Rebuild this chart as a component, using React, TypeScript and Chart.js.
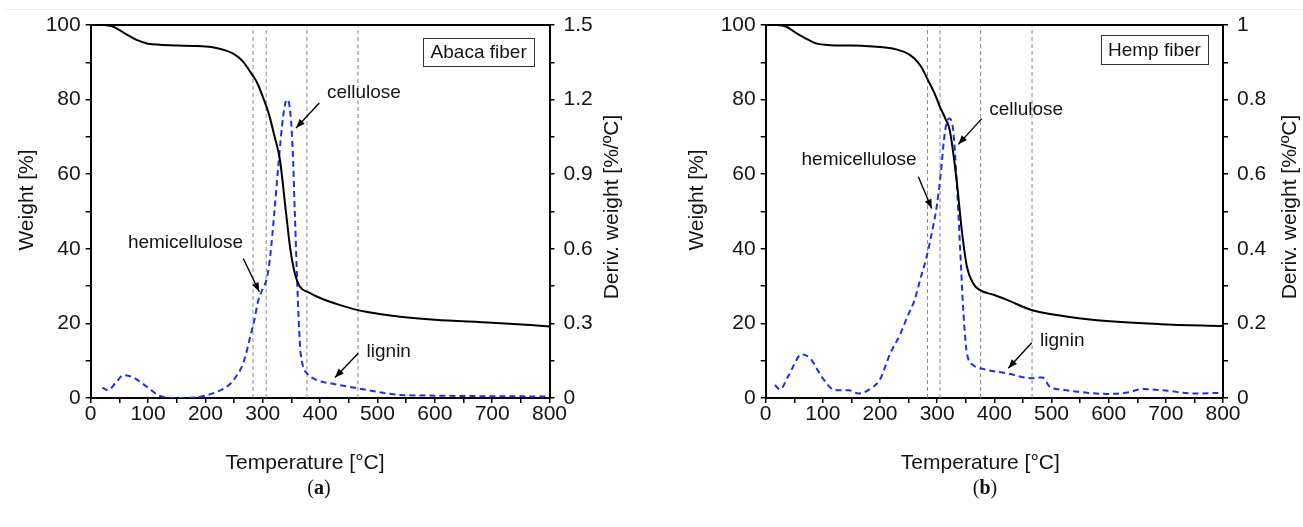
import React, { useEffect, useRef } from 'react';
import { Chart, registerables } from 'chart.js';
Chart.register(...registerables);

// ---------- Abaca fiber (a) ----------
const abacaWeightT = [25, 40, 60, 80, 100, 120, 150, 180, 210, 235, 250, 265, 280, 290, 300, 310, 320, 330, 340, 348, 356, 365, 380, 400, 435, 480, 540, 600, 700, 800];
const abacaWeight = [100, 99.5, 97.7, 96, 95, 94.7, 94.5, 94.4, 94.1, 93.2, 92.2, 90.3, 87, 84.6, 80.8, 76.5, 70.5, 63.8, 50.5, 40, 33.4, 29.8, 28.3, 26.8, 24.9, 23.1, 21.8, 21, 20.2, 19.2];
const abacaDtgT = [20, 30, 45, 57, 74, 98, 121, 150, 185, 220, 240, 250, 260, 266, 270, 278, 285, 292, 300, 307, 313, 320, 327, 336, 342, 347, 352, 356, 360, 365, 370, 377, 394, 420, 466, 500, 540, 580, 650, 800];
const abacaDtg = [0.042, 0.032, 0.065, 0.092, 0.083, 0.045, 0.008, 0, 0.003, 0.025, 0.05, 0.075, 0.11, 0.14, 0.17, 0.245, 0.31, 0.39, 0.44, 0.48, 0.57, 0.74, 0.93, 1.14, 1.2, 1.17, 1.01, 0.74, 0.47, 0.21, 0.13, 0.1, 0.072, 0.058, 0.039, 0.025, 0.012, 0.01, 0.008, 0.006];
const abacaMarkers = [283, 306, 377, 466];

// ---------- Hemp fiber (b) ----------
const hempWeightT = [20, 35, 55, 75, 90, 114, 140, 172, 200, 230, 250, 260, 272, 283, 295, 305, 314, 322, 334, 343, 352, 363, 375, 400, 422, 465, 520, 575, 690, 800];
const hempWeight = [100, 99.6, 97.7, 96, 95, 94.6, 94.5, 94.4, 94.1, 93.4, 92.2, 91, 88.8, 85.5, 81.8, 78, 75, 71.8, 58.4, 45, 35.2, 30.7, 28.9, 27.6, 26.3, 23.6, 22, 20.9, 19.8, 19.3];
const hempDtgT = [16, 25, 40, 63, 78, 98, 118, 130, 145, 162, 188, 200, 218, 235, 247, 261, 270, 280, 288, 299, 305, 314, 321, 328, 334, 340, 346, 352, 363, 380, 422, 465, 478, 484, 497, 520, 545, 597, 630, 661, 700, 748, 800];
const hempDtg = [0.035, 0.023, 0.06, 0.117, 0.106, 0.057, 0.023, 0.021, 0.021, 0.012, 0.03, 0.05, 0.12, 0.17, 0.215, 0.265, 0.316, 0.37, 0.423, 0.512, 0.584, 0.718, 0.749, 0.718, 0.584, 0.405, 0.227, 0.12, 0.088, 0.078, 0.066, 0.053, 0.055, 0.055, 0.03, 0.022, 0.017, 0.011, 0.014, 0.024, 0.02, 0.012, 0.014];
const hempMarkers = [283, 305, 376, 466];

// ---------- axis labels ----------
const xTitle = 'Temperature [°C]';
const yTitle = 'Weight [%]';
const y1Title = 'Deriv. weight [%/ºC]';

// annotations in data coordinates (T, weight %)
type Note = { text: string; tx: number; ty: number; align: CanvasTextAlign; ax1: number; ay1: number; ax2: number; ay2: number };
const abacaNotes: Note[] = [
  { text: 'cellulose', tx: 412, ty: 81.7, align: 'left', ax1: 398.6, ay1: 79.1, ax2: 358, ay2: 72.4 },
  { text: 'hemicellulose', tx: 265.6, ty: 41.5, align: 'right', ax1: 266, ay1: 37.4, ax2: 294, ay2: 28.5 },
  { text: 'lignin', tx: 481, ty: 12.3, align: 'left', ax1: 466.6, ay1: 12, ax2: 426, ay2: 5.5 },
];
const hempNotes: Note[] = [
  { text: 'cellulose', tx: 391, ty: 77.2, align: 'left', ax1: 378, ay1: 74.9, ax2: 337, ay2: 68 },
  { text: 'hemicellulose', tx: 264, ty: 63.8, align: 'right', ax1: 267, ay1: 59.3, ax2: 290.4, ay2: 50.8 },
  { text: 'lignin', tx: 480, ty: 15.3, align: 'left', ax1: 465.4, ay1: 14.8, ax2: 424.4, ay2: 8 },
];

const FONT = '"Liberation Sans", Arial, sans-serif';
const INK = '#141414';

type PanelProps = {
  wT: number[]; w: number[]; dT: number[]; d: number[]; markers: number[];
  y1Max: number; y1Step: number; y1LabelEvery: number;
  notes: Note[]; boxText: string; box: [number, number, number, number];
  width: number; yW: number; y1W: number;
  yTitleX: number; y1TitleX: number; xTitleShift: number;
};

function drawArrow(ctx: CanvasRenderingContext2D, x1: number, y1: number, x2: number, y2: number) {
  ctx.beginPath(); ctx.moveTo(x1, y1); ctx.lineTo(x2, y2); ctx.stroke();
  const a = Math.atan2(y2 - y1, x2 - x1);
  const L = 9, W = 3.5;
  ctx.beginPath();
  ctx.moveTo(x2, y2);
  ctx.lineTo(x2 - L * Math.cos(a) + W * Math.sin(a), y2 - L * Math.sin(a) - W * Math.cos(a));
  ctx.lineTo(x2 - L * Math.cos(a) - W * Math.sin(a), y2 - L * Math.sin(a) + W * Math.cos(a));
  ctx.closePath(); ctx.fill();
}

function Panel(p: PanelProps) {
  const ref = useRef<HTMLCanvasElement>(null);
  useEffect(() => {
    if (!ref.current) return;
    const deco = {
      id: 'deco',
      afterDraw(chart: any) {
        const ctx: CanvasRenderingContext2D = chart.ctx;
        const ca = chart.chartArea;
        const xs = chart.scales.x, ys = chart.scales.y;
        ctx.save();
        // top frame
        ctx.strokeStyle = '#000'; ctx.lineWidth = 2;
        ctx.beginPath(); ctx.moveTo(ca.left - 1, ca.top); ctx.lineTo(ca.right + 1, ca.top); ctx.stroke();
        // box label
        const [b0, b1, b2, b3] = p.box;
        const bx1 = xs.getPixelForValue(b0), by1 = ys.getPixelForValue(b1);
        const bx2 = xs.getPixelForValue(b2), by2 = ys.getPixelForValue(b3);
        ctx.fillStyle = '#fff'; ctx.fillRect(bx1, by1, bx2 - bx1, by2 - by1);
        ctx.strokeStyle = '#333'; ctx.lineWidth = 1;
        ctx.strokeRect(Math.round(bx1) + 0.5, Math.round(by1) + 0.5, Math.round(bx2 - bx1), Math.round(by2 - by1));
        ctx.fillStyle = INK; ctx.font = `19px ${FONT}`; ctx.textAlign = 'center'; ctx.textBaseline = 'middle';
        ctx.fillText(p.boxText, (bx1 + bx2) / 2, (by1 + by2) / 2 + 1);
        // notes
        ctx.strokeStyle = '#000'; ctx.fillStyle = '#000'; ctx.lineWidth = 1.4;
        for (const n of p.notes) {
          drawArrow(ctx, xs.getPixelForValue(n.ax1), ys.getPixelForValue(n.ay1), xs.getPixelForValue(n.ax2), ys.getPixelForValue(n.ay2));
          ctx.fillStyle = INK;
          ctx.font = `19px ${FONT}`; ctx.textAlign = n.align; ctx.textBaseline = 'middle';
          ctx.fillText(n.text, xs.getPixelForValue(n.tx), ys.getPixelForValue(n.ty));
          ctx.fillStyle = '#000';
        }
        // axis titles
        ctx.fillStyle = INK; ctx.font = `21px ${FONT}`; ctx.textAlign = 'center'; ctx.textBaseline = 'middle';
        ctx.fillText(xTitle, (ca.left + ca.right) / 2 + p.xTitleShift, 463);
        ctx.save(); ctx.translate(p.yTitleX, 200); ctx.rotate(-Math.PI / 2); ctx.fillText(yTitle, 0, 0); ctx.restore();
        ctx.save(); ctx.translate(p.y1TitleX, 207); ctx.rotate(-Math.PI / 2); ctx.fillText(y1Title, 0, 0); ctx.restore();
        ctx.restore();
      },
    };
    const tickFont = { family: FONT, size: 21 };
    const gridCfg = { drawOnChartArea: false, drawTicks: true, tickLength: 5, color: '#000', lineWidth: 1.5 };
    const borderCfg = { display: true, color: '#000', width: 2 };
    const markerSets = p.markers.map((m) => ({
      data: [{ x: m, y: 0 }, { x: m, y: 100 }],
      borderColor: '#8a8a8a', borderWidth: 1, borderDash: [4, 3], pointRadius: 0, yAxisID: 'y', order: 5,
    }));
    const chart = new Chart(ref.current, {
      type: 'line',
      data: {
        datasets: [
          {
            data: p.wT.map((t, i) => ({ x: t, y: p.w[i] })),
            borderColor: '#000', borderWidth: 2, pointRadius: 0, cubicInterpolationMode: 'monotone', yAxisID: 'y', order: 1,
          },
          {
            data: p.dT.map((t, i) => ({ x: t, y: p.d[i] })),
            borderColor: '#1a30f0', borderWidth: 2, borderDash: [6, 4], pointRadius: 0, cubicInterpolationMode: 'monotone', yAxisID: 'y1', order: 2,
          },
          ...markerSets,
        ] as any,
      },
      options: {
        animation: false,
        responsive: false,
        devicePixelRatio: 1,
        layout: { padding: { top: 25, left: 0, right: 0, bottom: 0 } },
        plugins: { legend: { display: false }, tooltip: { enabled: false } },
        scales: {
          x: {
            type: 'linear', min: 0, max: 800,
            ticks: { stepSize: 50, autoSkip: false, maxRotation: 0, padding: -1, font: tickFont, color: INK,
              callback: (v: any) => (Number(v) % 100 === 0 ? String(v) : '') },
            grid: gridCfg, border: borderCfg,
            afterFit: (s: any) => { s.height = 129; },
          },
          y: {
            type: 'linear', position: 'left', min: 0, max: 100,
            ticks: { stepSize: 10, autoSkip: false, padding: 5, font: tickFont, color: INK,
              callback: (v: any) => (Number(v) % 20 === 0 ? String(v) : '') },
            grid: gridCfg, border: borderCfg,
            afterFit: (s: any) => { s.width = p.yW; },
          },
          y1: {
            type: 'linear', position: 'right', min: 0, max: p.y1Max,
            ticks: { stepSize: p.y1Step, autoSkip: false, padding: 9, font: tickFont, color: INK,
              callback: (v: any) => {
                const k = Math.round(Number(v) / p.y1Step);
                return k % p.y1LabelEvery === 0 ? String(Math.round(Number(v) * 100) / 100) : '';
              } },
            grid: gridCfg, border: borderCfg,
            afterFit: (s: any) => { s.width = p.y1W; },
          },
        },
      } as any,
      plugins: [deco],
    });
    return () => chart.destroy();
  }, []);
  return <canvas ref={ref} width={p.width} height={527} style={{ display: 'block', width: p.width, height: 527 }} />;
}

function Cap({ letter, x }: { letter: string; x: number }) {
  return (
    <div style={{ position: 'absolute', left: x, top: 487, transform: 'translate(-50%, -50%)', fontFamily: '"Liberation Serif", "Times New Roman", serif', fontSize: 20, color: '#111', whiteSpace: 'nowrap' }}>
      (<b>{letter}</b>)
    </div>
  );
}

export default function App() {
  useEffect(() => { document.body.style.margin = '0'; }, []);
  return (
    <div style={{ position: 'relative', width: 1303, height: 527, background: '#fff', overflow: 'hidden' }}>
      <div style={{ position: 'absolute', left: 5, right: 0, top: 9, height: 1, background: '#ececec' }} />
      <div style={{ position: 'absolute', left: 0, top: 0 }}>
        <Panel wT={abacaWeightT} w={abacaWeight} dT={abacaDtgT} d={abacaDtg} markers={abacaMarkers}
          y1Max={1.5} y1Step={0.15} y1LabelEvery={2}
          notes={abacaNotes} boxText="Abaca fiber" box={[580, 96.5, 773, 88.9]}
          width={650} yW={90.7} y1W={100.5} yTitleX={27} y1TitleX={612} xTitleShift={-15} />
      </div>
      <div style={{ position: 'absolute', left: 650, top: 0 }}>
        <Panel wT={hempWeightT} w={hempWeight} dT={hempDtgT} d={hempDtg} markers={hempMarkers}
          y1Max={1} y1Step={0.1} y1LabelEvery={2}
          notes={hempNotes} boxText="Hemp fiber" box={[586, 97.2, 774, 89.4]}
          width={653} yW={115.7} y1W={80} yTitleX={47} y1TitleX={640} xTitleShift={-14} />
      </div>
      <Cap letter="a" x={319} />
      <Cap letter="b" x={985} />
    </div>
  );
}
